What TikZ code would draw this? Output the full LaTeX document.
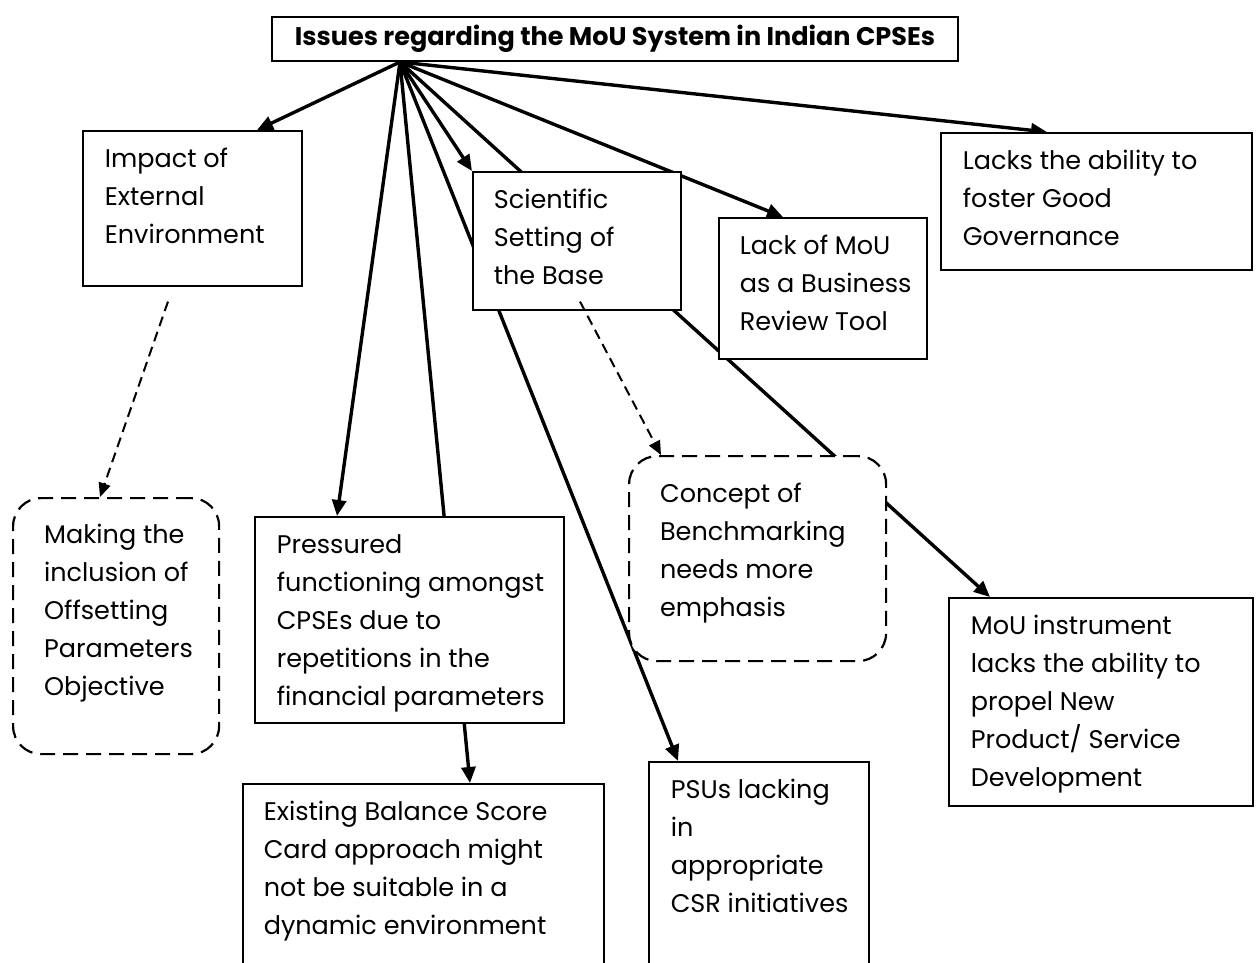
\documentclass[tikz,border=0pt]{standalone}
\usepackage{fontspec}
\setmainfont{Poppins}
\usetikzlibrary{arrows.meta,calc,backgrounds}
\newcommand{\bx}[3]{\makebox[#1pt][l]{\begin{tabular}[t]{@{\hspace{#2pt}}l@{}}#3\end{tabular}}}
\tikzset{
  box/.style={draw, line width=1.6pt, fill=white, inner sep=0pt, anchor=north west,
    font=\fontsize{25.5}{38}\selectfont},
  rbox/.style={box, line width=2.2pt, rounded corners=28pt, dash pattern=on 15pt off 8pt},
  titlebox/.style={draw, line width=1.6pt, fill=white, inner sep=0pt,
    minimum width=686pt, minimum height=44pt, font=\fontsize{25.5}{30}\selectfont\bfseries},
  conn/.style={line width=3.4pt, -{Triangle[length=16pt,width=14pt]}},
  dconn/.style={line width=2pt, dash pattern=on 10pt off 6pt, -{Triangle[length=14pt,width=12pt]}}
}
\begin{document}
\begin{tikzpicture}[x=1pt,y=-1pt]
\useasboundingbox (0,0) rectangle (1256,962);
\clip (0,0) rectangle (1256,962);
\node[titlebox] (t) at (615,39) {Issues regarding the MoU System in Indian CPSEs};
\coordinate (o) at (400,62);
\node[box, text height=37pt, text depth=118pt] (imp) at (82,130) {\bx{219}{22}{Impact of\\External\\Environment}};
\node[box, text height=37pt, text depth=100pt] (gov) at (940,132) {\bx{311}{22}{Lacks the ability to\\foster Good\\Governance}};
\node[box, text height=37pt, text depth=101pt] (sci) at (472,171) {\bx{208}{21}{Scientific\\Setting of\\the Base}};
\node[box, text height=37pt, text depth=104pt] (lack) at (718,217) {\bx{208}{21}{Lack of MoU\\as a Business\\Review Tool}};
\node[box, text height=37pt, text depth=169pt] (pr) at (254,516) {\bx{309}{22}{Pressured\\functioning amongst\\CPSEs due to\\repetitions in the\\financial parameters}};
\node[box, text height=37pt, text depth=180pt] (ex) at (242,783) {\bx{361}{21}{Existing Balance Score\\Card approach might\\not be suitable in a\\dynamic environment}};
\node[box, text height=37pt, text depth=202pt] (psu) at (648,761) {\bx{220}{22}{PSUs lacking\\in\\appropriate\\CSR initiatives}};
\node[box, text height=37pt, text depth=171pt] (mou) at (948,597) {\bx{304}{22}{MoU instrument\\lacks the ability to\\propel New\\Product/ Service\\Development}};
\node[rbox, text height=46pt, text depth=159pt] (con) at (628,455) {\bx{257}{31}{Concept of\\Benchmarking\\needs more\\emphasis}};
\node[rbox, text height=45pt, text depth=211pt] (mak) at (12,497) {\bx{206}{31}{Making the\\inclusion of\\Offsetting\\Parameters\\Objective}};
\begin{pgfonlayer}{background}
\draw[conn] (o) -- ($(imp.north west)+(175,0)$);
\draw[conn] (o) -- ($(pr.north west)+(83,0)$);
\draw[conn] (o) -- ($(ex.north west)+(228,0)$);
\draw[conn] (o) -- ($(psu.north west)+(30,0)$);
\draw[conn] (o) -- (sci.north west);
\draw[conn] (o) -- ($(mou.north west)+(42,0)$);
\draw[conn] (o) -- ($(lack.north west)+(65,0)$);
\draw[conn] (o) -- ($(gov.north west)+(107,0)$);
\end{pgfonlayer}
\draw[dconn] ($(imp.south west)+(86,15)$) -- ($(mak.north west)+(88,0)$);
\draw[dconn] ($(sci.south west)+(108,-9)$) -- ($(con.north west)+(33,0)$);
\end{tikzpicture}
\end{document}
